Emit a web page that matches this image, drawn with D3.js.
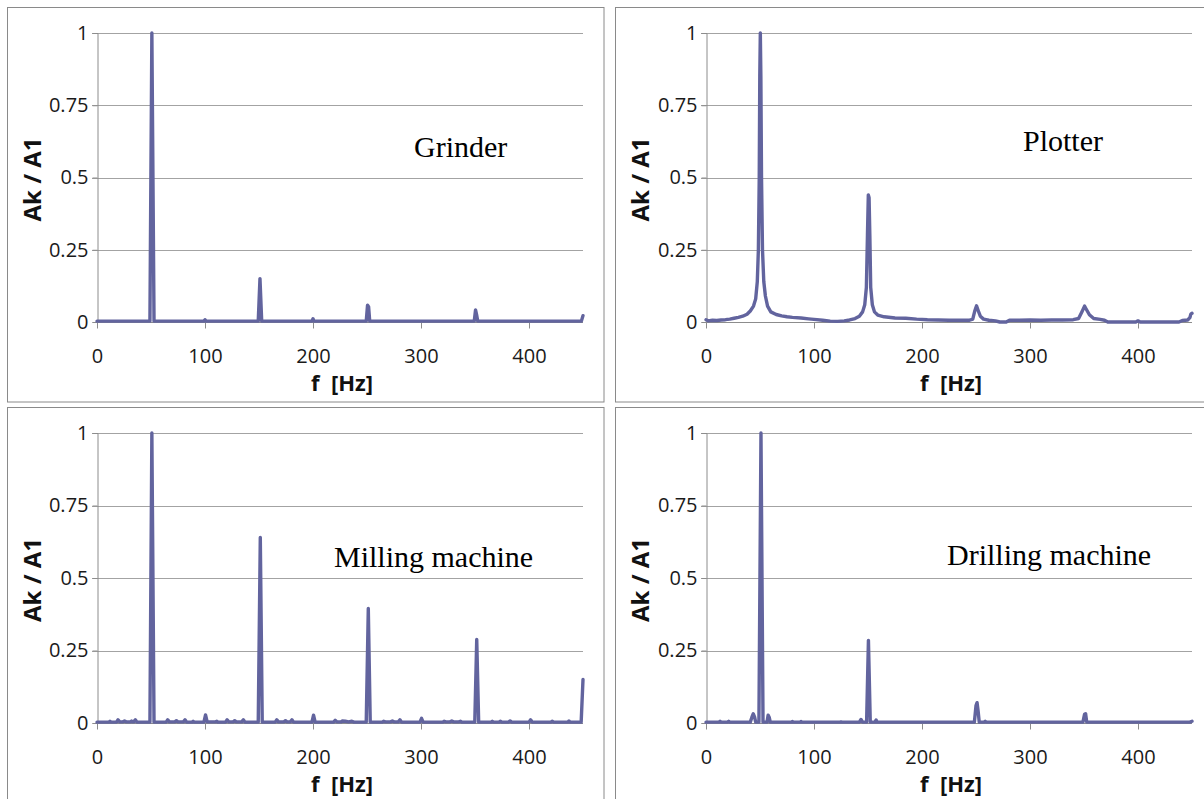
<!DOCTYPE html>
<html>
<head>
<meta charset="utf-8">
<script src="https://cdn.jsdelivr.net/npm/d3@7"></script>
<style>
  html, body { margin: 0; padding: 0; background: #ffffff; }
  svg { display: block; }
</style>
</head>
<body>
<svg id="chart" width="1204" height="799"></svg>
<script>
// ---------------- DATA ----------------
const xTicks = [0, 100, 200, 300, 400];
const yTicks = [0, 0.25, 0.5, 0.75, 1];
const yTickLabels = ["0", "0.25", "0.5", "0.75", "1"];
const xTitle = "f  [Hz]";
const yTitle = "Ak / A1";
const panelNames = ["Grinder", "Plotter", "Milling machine", "Drilling machine"];

// [frequency Hz, Ak/A1]
const grinder = [
  [0,0.003],[49,0.003],[50.8,1.0],[52.8,0.003],[99,0.003],[100,0.008],[101,0.003],
  [149.3,0.003],[150.9,0.15],[152.5,0.003],[199,0.003],[200,0.011],[201,0.003],
  [249.3,0.003],[250.5,0.058],[251.5,0.052],[252.5,0.003],[349.3,0.003],[350.5,0.042],
  [351.5,0.025],[352.5,0.003],[448.5,0.003],[450,0.022]
];

const plotter = [
  [0,0.008],[2,0.004],[6,0.006],[10,0.005],[14,0.007],[18,0.008],[22,0.01],[26,0.013],
  [30,0.016],[34,0.02],[38,0.027],[41,0.038],[44,0.055],[46,0.08],[47.5,0.14],[48.5,0.25],
  [49.3,0.5],[49.8,0.85],[50.3,1.0],[50.8,0.85],[51.4,0.5],[52.3,0.25],[53.5,0.14],[55,0.09],
  [57,0.055],[60,0.035],[65,0.026],[70,0.021],[75,0.018],[80,0.016],[88,0.014],[95,0.011],
  [100,0.009],[108,0.006],[115,0.003],[122,0.002],[128,0.004],[133,0.007],[138,0.012],
  [142,0.02],[145,0.035],[147,0.06],[148.5,0.12],[149.5,0.3],[150.3,0.44],[151,0.43],
  [151.7,0.3],[152.5,0.12],[154,0.06],[156,0.035],[159,0.024],[165,0.018],[175,0.014],
  [185,0.013],[195,0.01],[205,0.008],[215,0.007],[225,0.006],[235,0.006],[244,0.006],
  [247,0.01],[249,0.04],[250.5,0.056],[252,0.04],[254,0.02],[257,0.01],[262,0.006],
  [268,0.004],[272,0],[278,0],[281,0.006],[290,0.006],[300,0.007],[310,0.006],[320,0.007],
  [330,0.007],[340,0.008],[345,0.012],[348,0.035],[350.5,0.055],[352,0.045],[355,0.025],
  [359,0.012],[365,0.009],[369,0.006],[372,0],[398,0],[400,0.004],[402,0],[438,0],
  [441,0.005],[446,0.007],[448,0.015],[449,0.028],[450,0.03]
];

const milling = [
  [0,0.003],[11,0.003],[12,0.006],[13,0.003],[18,0.003],[19.5,0.011],[21,0.004],[24,0.004],
  [25.5,0.007],[27,0.004],[31,0.004],[32,0.007],[33,0.004],[34,0.004],[35.5,0.011],[37,0.003],
  [49,0.003],[50.8,1.0],[52.8,0.003],[64,0.003],[65.5,0.011],[67,0.004],[72,0.004],
  [73.5,0.008],[75,0.004],[80,0.004],[81.5,0.011],[83,0.003],[88,0.003],[89,0.006],[90,0.003],
  [99,0.003],[100.5,0.028],[102,0.004],[110,0.004],[111,0.006],[112,0.003],[119,0.003],
  [120.5,0.011],[122,0.004],[126,0.004],[127.5,0.008],[129,0.004],[134,0.004],[135.5,0.011],
  [137,0.003],[149.3,0.003],[151.2,0.64],[153,0.003],[165,0.003],[166.5,0.011],[168,0.004],
  [173,0.004],[174.5,0.008],[176,0.004],[179,0.004],[180.5,0.011],[182,0.003],[199,0.003],
  [200.5,0.027],[202,0.003],[219,0.003],[220.5,0.009],[222,0.004],[226,0.004],[227,0.007],
  [230,0.006],[233,0.004],[236,0.006],[238,0.003],[249.3,0.003],[251.2,0.395],[253,0.003],
  [264,0.003],[265.5,0.006],[267,0.004],[272,0.004],[273.5,0.007],[275,0.004],[279,0.004],
  [280.5,0.011],[282,0.003],[299,0.003],[300.5,0.016],[302,0.003],[320,0.003],[321.5,0.006],
  [323,0.004],[327,0.004],[328.5,0.007],[330,0.004],[335,0.004],[336.5,0.006],[338,0.003],
  [349.8,0.003],[351.6,0.288],[353.4,0.003],[365,0.003],[366,0.006],[367,0.003],[372,0.003],
  [373.5,0.006],[375,0.003],[381,0.003],[382.5,0.007],[384,0.003],[400,0.003],[401.5,0.011],
  [403,0.003],[420,0.003],[421.5,0.006],[423,0.003],[436,0.003],[437,0.007],[438,0.003],
  [448.3,0.003],[450,0.15]
];

const drilling = [
  [0,0.003],[12,0.003],[13,0.006],[14,0.003],[20,0.003],[21,0.006],[22,0.003],[41,0.003],
  [42.5,0.02],[43.8,0.032],[45,0.02],[46,0.003],[49,0.003],[50.9,1.0],[52.8,0.003],
  [56.5,0.003],[57.5,0.027],[58.5,0.02],[59.5,0.003],[79,0.003],[80,0.005],[81,0.003],
  [87,0.003],[88,0.005],[89,0.003],[124,0.003],[125,0.004],[126,0.003],[142,0.003],
  [143.5,0.012],[145,0.003],[148.7,0.003],[150.4,0.285],[152.1,0.003],[156.5,0.003],
  [157.5,0.01],[158.5,0.003],[248.5,0.003],[250,0.06],[251,0.07],[252,0.04],[253,0.003],
  [257.5,0.003],[258.5,0.006],[259.5,0.003],[349,0.003],[350.5,0.03],[351.5,0.032],
  [352.5,0.003],[448,0.003],[450,0.006]
];

const seriesList = [grinder, plotter, milling, drilling];

// ---------------- LAYOUT ----------------
const layout = [
  { frame: [7.5, 7.5, 604, 402],   plot: [97, 33, 583, 322],    label: [414, 157] },
  { frame: [615.5, 7.5, 1210, 402], plot: [706, 33, 1192, 322],  label: [1023, 151] },
  { frame: [7.5, 407.5, 604, 810],  plot: [97, 433, 583, 723],   label: [334, 567] },
  { frame: [615.5, 407.5, 1210, 810], plot: [706, 433, 1192, 723], label: [947, 565] }
];

const LINE_COLOR = "#62649e";
const GRID_COLOR = "#a3a3a3";
const AXIS_COLOR = "#8c8c8c";
const SANS = "'Open Sans', 'Noto Sans', sans-serif";

const svg = d3.select("#chart");

layout.forEach((L, i) => {
  const [fx0, fy0, fx1, fy1] = L.frame;
  const [px0, py0, px1, py1] = L.plot;
  const g = svg.append("g");

  g.append("rect")
    .attr("x", fx0).attr("y", fy0)
    .attr("width", fx1 - fx0).attr("height", fy1 - fy0)
    .attr("fill", "#ffffff")
    .attr("stroke", "#8a8a8a").attr("stroke-width", 1);

  const x = d3.scaleLinear().domain([0, 450]).range([px0, px1]);
  const y = d3.scaleLinear().domain([0, 1]).range([py1, py0]);

  // horizontal gridlines (with small ticks to the left)
  g.selectAll("line.grid").data(yTicks.filter(v => v > 0)).enter()
    .append("line")
    .attr("x1", px0 - 5).attr("x2", px1)
    .attr("y1", d => Math.round(y(d)) + 0.5).attr("y2", d => Math.round(y(d)) + 0.5)
    .attr("stroke", GRID_COLOR).attr("stroke-width", 1);

  // y axis
  const yAxis = d3.axisLeft(y).tickValues(yTicks).tickSize(5)
    .tickFormat((d, k) => yTickLabels[k]);
  const ya = g.append("g").attr("transform", `translate(${px0 + 0.5},0)`).call(yAxis);
  ya.select(".domain").attr("stroke", AXIS_COLOR);
  ya.selectAll(".tick line").attr("stroke", AXIS_COLOR);
  ya.selectAll(".tick text")
    .attr("x", -9)
    .attr("font-family", SANS).attr("font-size", 20).attr("fill", "#1a1a1a");

  // x axis
  const xAxis = d3.axisBottom(x).tickValues(xTicks).tickSize(6).tickFormat(d3.format("d"));
  const xa = g.append("g").attr("transform", `translate(0,${py1 + 0.5})`).call(xAxis);
  xa.select(".domain").attr("stroke", AXIS_COLOR).attr("d", `M${px0},0H${px1}`);
  xa.selectAll(".tick line").attr("stroke", AXIS_COLOR);
  xa.selectAll(".tick text")
    .attr("y", 33).attr("dy", "0.35em")
    .attr("font-family", SANS).attr("font-size", 20).attr("fill", "#1a1a1a");

  // axis titles
  g.append("text")
    .attr("x", (px0 + px1) / 2 + 2).attr("y", py1 + 61)
    .attr("dy", "0.35em")
    .attr("text-anchor", "middle")
    .attr("font-family", SANS).attr("font-weight", "bold").attr("font-size", 22)
    .attr("fill", "#111")
    .attr("xml:space", "preserve")
    .style("white-space", "pre")
    .text(xTitle);

  g.append("text")
    .attr("transform", `translate(${fx0 + 25},${(py0 + py1) / 2 + 2}) rotate(-90)`)
    .attr("dy", "0.35em")
    .attr("text-anchor", "middle")
    .attr("font-family", SANS).attr("font-weight", "bold").attr("font-size", 24)
    .attr("fill", "#111")
    .text(yTitle);

  // series line
  const line = d3.line().x(d => x(d[0])).y(d => y(d[1]));
  g.append("path")
    .datum(seriesList[i])
    .attr("d", line)
    .attr("fill", "none")
    .attr("stroke", LINE_COLOR)
    .attr("stroke-width", 3.4)
    .attr("stroke-linejoin", "round")
    .attr("stroke-linecap", "round");

  // panel name
  g.append("text")
    .attr("x", L.label[0]).attr("y", L.label[1])
    .attr("font-family", "'Liberation Serif', 'Times New Roman', serif")
    .attr("font-size", 30)
    .attr("fill", "#000")
    .text(panelNames[i]);
});
</script>
</body>
</html>
